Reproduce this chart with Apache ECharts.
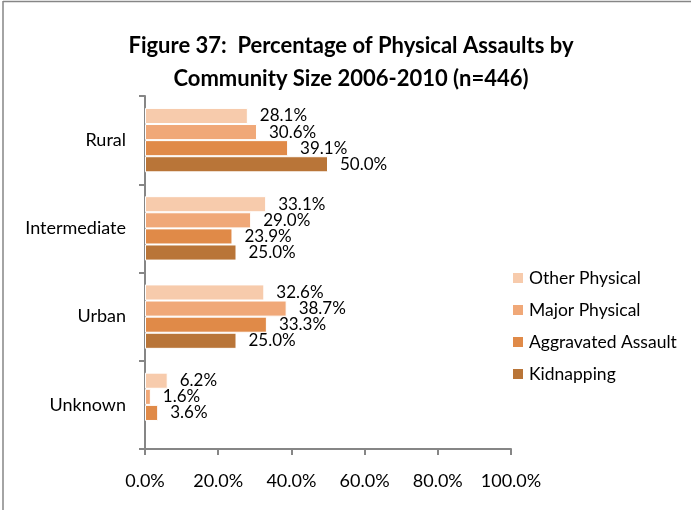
<!DOCTYPE html>
<html><head><meta charset="utf-8">
<script src="https://cdn.jsdelivr.net/npm/echarts@6/dist/echarts.min.js"></script>
<style>html,body{margin:0;padding:0;background:#fff}#c{width:691px;height:510px}</style>
</head><body><div id="c"></div>
<script>
const categories = ['Rural', 'Intermediate', 'Urban', 'Unknown'];
const seriesNames = ['Other Physical', 'Major Physical', 'Aggravated Assault', 'Kidnapping'];
const otherPhysical = [28.1, 33.1, 32.6, 6.2];
const majorPhysical = [30.6, 29.0, 38.7, 1.6];
const aggravatedAssault = [39.1, 23.9, 33.3, 3.6];
const kidnapping = [50.0, 25.0, 25.0, null];
const xTicks = [0, 20, 40, 60, 80, 100];
const colors = ['#F7CBAC', '#F0A878', '#E08A48', '#B97538'];
const FONT = 'Lato, "Open Sans", sans-serif';

const chart = echarts.init(document.getElementById('c'), null, {renderer: 'canvas'});
const dataSets = [otherPhysical, majorPhysical, aggravatedAssault, kidnapping];
const series = dataSets.map((d, i) => ({
  name: seriesNames[i],
  type: 'bar',
  data: d,
  barGap: '0%',
  barCategoryGap: '27%',
  itemStyle: {color: colors[i], borderColor: '#fff', borderWidth: 1},
  label: {
    show: true, position: 'right', distance: 12,
    formatter: p => p.value == null ? '' : p.value.toFixed(1) + '%',
    color: '#000', fontSize: 17, fontFamily: FONT
  }
}));

chart.setOption({
  animation: false,
  backgroundColor: '#fff',
  title: {
    text: 'Figure 37:  Percentage of Physical Assaults by\nCommunity Size 2006-2010 (n=446)',
    left: 346, textAlign: 'center', top: 24,
    textStyle: {fontFamily: FONT, fontWeight: 'bold', fontSize: 22, color: '#000', lineHeight: 33}
  },
  legend: {
    orient: 'vertical', left: 506, top: 264, itemGap: 14, itemWidth: 12, itemHeight: 12,
    icon: 'rect', data: seriesNames,
    textStyle: {fontFamily: FONT, fontSize: 17.5, color: '#000', lineHeight: 18}
  },
  grid: {left: 145, right: 180, top: 96, bottom: 61, containLabel: false},
  xAxis: {
    type: 'value', min: 0, max: 100, interval: 20,
    axisLine: {show: true, lineStyle: {color: '#868686', width: 2}},
    axisTick: {show: true, length: 6, lineStyle: {color: '#868686', width: 2}},
    splitLine: {show: false},
    axisLabel: {formatter: v => v.toFixed(1) + '%', color: '#000', fontSize: 18, fontFamily: FONT, margin: 23}
  },
  yAxis: {
    type: 'category', data: categories, inverse: true,
    axisLine: {show: true, lineStyle: {color: '#868686', width: 2}},
    axisTick: {show: true, length: 6, lineStyle: {color: '#868686', width: 2}},
    axisLabel: {color: '#000', fontSize: 18, fontFamily: FONT, margin: 19}
  },
  series: series,
  graphic: [
    {type: 'line', shape: {x1: 3, y1: 1.5, x2: 691, y2: 1.5},
      style: {stroke: '#868686', lineWidth: 1.5}, silent: true},
    {type: 'line', shape: {x1: 3, y1: 1, x2: 3, y2: 510},
      style: {stroke: '#868686', lineWidth: 1.5}, silent: true}
  ]
});
</script></body></html>
